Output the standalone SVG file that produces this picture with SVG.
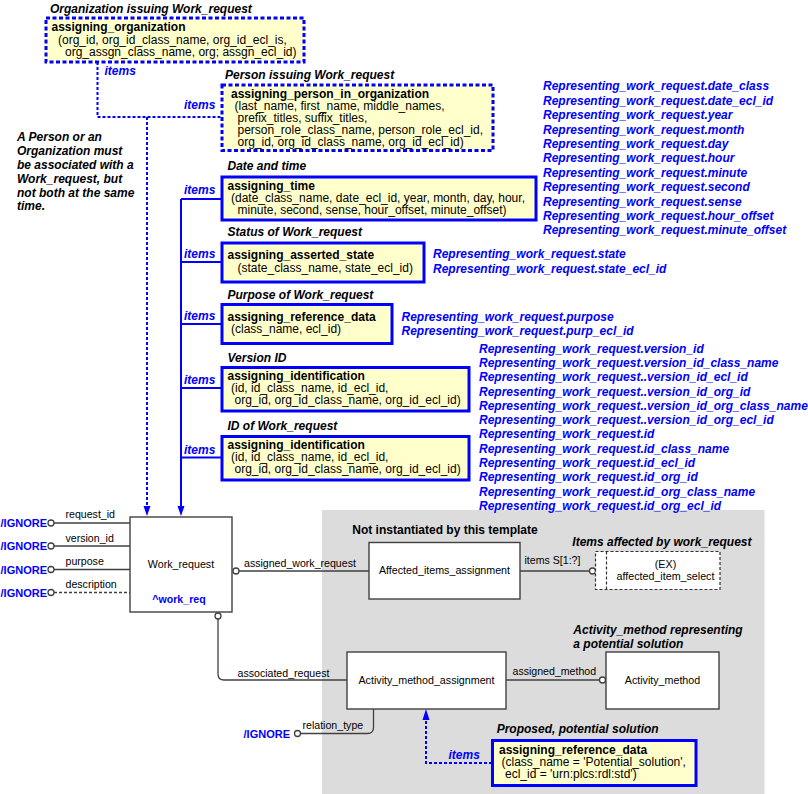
<svg xmlns="http://www.w3.org/2000/svg" width="808" height="794" viewBox="0 0 808 794">
<style>
text{font-family:"Liberation Sans",Arial,Helvetica,sans-serif;}
.ttl{font-size:12px;font-weight:bold;font-style:italic;fill:#000}
.bx{font-size:12px;fill:#000}
.bb{font-weight:bold}
.rep{font-size:12px;font-weight:bold;font-style:italic;fill:#0000ff}
.lbl{font-size:10.6px;fill:#000}
.ent{font-size:10.7px;fill:#000;text-anchor:middle}
.ign{font-size:11px;font-weight:bold;fill:#0000ff;text-anchor:end}
.tb{fill:#ffffcc;stroke:#0000ff;stroke-width:3}
.tbd{fill:#ffffcc;stroke:#0000ff;stroke-width:3;stroke-dasharray:4 2.5}
.eb{fill:#fff;stroke:#404040;stroke-width:1.4}
.ln{fill:none;stroke:#404040;stroke-width:1.3}
.bl{fill:none;stroke:#0000ff;stroke-width:2}
.bld{fill:none;stroke:#0000ff;stroke-width:2;stroke-dasharray:3 2}
.circ{fill:#fff;stroke:#404040;stroke-width:1.3}
</style>

<rect id="notInstantiatedArea" x="322" y="510" width="442.5" height="284" fill="#dcdcdc"/>

<g id="connectors">
  <path class="bld" d="M97.5,62 V117 H222"/>
  <path class="bld" d="M147,117 V506"/>
  <path d="M143.5,506 L150.5,506 L147,516 z" fill="#0000ff"/>
  <path class="bl" d="M181,199 V506"/>
  <path d="M177.5,506 L184.5,506 L181,516 z" fill="#0000ff"/>
  <path class="bl" d="M181,199 H222 M181,262 H222 M181,324 H222 M181,388 H222 M181,457.5 H222"/>
  <path class="ln" d="M54,523 H130 M54,546 H130 M54,569.5 H130"/>
  <path class="ln" d="M54,592.5 H130" stroke-dasharray="3 2"/>
  <circle class="circ" cx="51" cy="523" r="3"/>
  <circle class="circ" cx="51" cy="546" r="3"/>
  <circle class="circ" cx="51" cy="569.5" r="3"/>
  <circle class="circ" cx="51" cy="592.5" r="3"/>
  <path class="ln" d="M239,571 H369"/>
  <circle class="circ" cx="236" cy="571" r="3"/>
  <path class="ln" d="M520,571 H589.5"/>
  <circle class="circ" cx="592.5" cy="571" r="3"/>
  <path class="ln" d="M218,619 V674 Q218,680 224,680 H347"/>
  <circle class="circ" cx="218" cy="616" r="3"/>
  <path class="ln" d="M373.5,709 V727.5 Q373.5,733.5 367.5,733.5 H300.5"/>
  <circle class="circ" cx="297.5" cy="733.5" r="3"/>
  <path class="ln" d="M506,680 H599.5"/>
  <circle class="circ" cx="602.5" cy="680" r="3"/>
  <path class="bld" d="M492,763 H426 V720"/>
  <path d="M422.5,720 L429.5,720 L426,709 z" fill="#0000ff"/>
</g>

<g id="labels">
  <text class="rep" x="104.5" y="75">items</text>
  <text class="rep" x="184" y="109">items</text>
  <text class="rep" x="184" y="193.5">items</text>
  <text class="rep" x="184" y="257.5">items</text>
  <text class="rep" x="184" y="320">items</text>
  <text class="rep" x="184" y="384">items</text>
  <text class="rep" x="184" y="454">items</text>
  <text class="rep" x="448.5" y="759">items</text>
  <text class="ign" x="47" y="527">/IGNORE</text>
  <text class="ign" x="47" y="550">/IGNORE</text>
  <text class="ign" x="47" y="573.5">/IGNORE</text>
  <text class="ign" x="47" y="596.5">/IGNORE</text>
  <text class="ign" x="290" y="738">/IGNORE</text>
  <text class="lbl" x="65.5" y="518">request_id</text>
  <text class="lbl" x="65.5" y="541.5">version_id</text>
  <text class="lbl" x="65.5" y="564.5">purpose</text>
  <text class="lbl" x="65.5" y="588">description</text>
  <text class="lbl" x="244" y="567">assigned_work_request</text>
  <text class="lbl" x="524.5" y="564">items S[1:?]</text>
  <text class="lbl" x="237.5" y="676.5">associated_request</text>
  <text class="lbl" x="302.5" y="729">relation_type</text>
  <text class="lbl" x="512.5" y="675">assigned_method</text>
</g>

<g id="note">
  <text class="ttl" x="17" y="140.5">A Person or an</text>
  <text class="ttl" x="17" y="154.5">Organization must</text>
  <text class="ttl" x="17" y="168.5">be associated with a</text>
  <text class="ttl" x="17" y="182.5">Work_request, but</text>
  <text class="ttl" x="17" y="196.5">not both at the same</text>
  <text class="ttl" x="17" y="210">time.</text>
</g>

<g id="assigning_organization">
  <text class="ttl" x="50" y="13">Organization issuing Work_request</text>
  <rect class="tbd" x="46" y="18" width="258" height="44"/>
  <text class="bx bb" x="51.5" y="31">assigning_organization</text>
  <text class="bx" x="58" y="43.5">(org_id, org_id_class_name, org_id_ecl_is,</text>
  <text class="bx" x="65" y="56">org_assgn_class_name, org; assgn_ecl_id)</text>
</g>

<g id="assigning_person_in_organization">
  <text class="ttl" x="225" y="79">Person issuing Work_request</text>
  <rect class="tbd" x="222" y="85" width="271" height="65.5"/>
  <text class="bx bb" x="231" y="97.5">assigning_person_in_organization</text>
  <text class="bx" x="234.5" y="109.5">(last_name, first_name, middle_names,</text>
  <text class="bx" x="237.5" y="122">prefix_titles, suffix_titles,</text>
  <text class="bx" x="237.5" y="134">person_role_class_name, person_role_ecl_id,</text>
  <text class="bx" x="237.5" y="146">org_id, org_id_class_name, org_id_ecl_id)</text>
</g>

<g id="assigning_time">
  <text class="ttl" x="227.5" y="170">Date and time</text>
  <rect class="tb" x="222" y="177" width="314" height="43"/>
  <text class="bx bb" x="227.5" y="190">assigning_time</text>
  <text class="bx" x="231" y="202">(date_class_name, date_ecl_id, year, month, day, hour,</text>
  <text class="bx" x="237.5" y="214">minute, second, sense, hour_offset, minute_offset)</text>
  <text class="rep" x="543" y="90.3">Representing_work_request.date_class</text>
  <text class="rep" x="543" y="104.7">Representing_work_request.date_ecl_id</text>
  <text class="rep" x="543" y="119.1">Representing_work_request.year</text>
  <text class="rep" x="543" y="133.5">Representing_work_request.month</text>
  <text class="rep" x="543" y="147.9">Representing_work_request.day</text>
  <text class="rep" x="543" y="162.3">Representing_work_request.hour</text>
  <text class="rep" x="543" y="176.7">Representing_work_request.minute</text>
  <text class="rep" x="543" y="191.1">Representing_work_request.second</text>
  <text class="rep" x="543" y="205.5">Representing_work_request.sense</text>
  <text class="rep" x="543" y="219.9">Representing_work_request.hour_offset</text>
  <text class="rep" x="543" y="234.3">Representing_work_request.minute_offset</text>
</g>

<g id="assigning_asserted_state">
  <text class="ttl" x="227.5" y="236">Status of Work_request</text>
  <rect class="tb" x="222" y="243" width="202" height="39"/>
  <text class="bx bb" x="227.5" y="259">assigning_asserted_state</text>
  <text class="bx" x="237.5" y="271.5">(state_class_name, state_ecl_id)</text>
  <text class="rep" x="433" y="258.3">Representing_work_request.state</text>
  <text class="rep" x="433" y="272.6">Representing_work_request.state_ecl_id</text>
</g>

<g id="assigning_reference_data_purpose">
  <text class="ttl" x="227.5" y="299">Purpose of Work_request</text>
  <rect class="tb" x="222" y="304.5" width="170" height="39"/>
  <text class="bx bb" x="227.5" y="320.5">assigning_reference_data</text>
  <text class="bx" x="231" y="333">(class_name, ecl_id)</text>
  <text class="rep" x="401.5" y="321">Representing_work_request.purpose</text>
  <text class="rep" x="401.5" y="335">Representing_work_request.purp_ecl_id</text>
</g>

<g id="assigning_identification_version">
  <text class="ttl" x="227.5" y="361.5">Version ID</text>
  <rect class="tb" x="222" y="367.5" width="247" height="43.5"/>
  <text class="bx bb" x="227.5" y="379.5">assigning_identification</text>
  <text class="bx" x="231" y="392">(id, id_class_name, id_ecl_id,</text>
  <text class="bx" x="234.5" y="404">org_id, org_id_class_name, org_id_ecl_id)</text>
</g>

<g id="assigning_identification_id">
  <text class="ttl" x="227.5" y="430">ID of Work_request</text>
  <rect class="tb" x="222" y="436.5" width="247" height="43.5"/>
  <text class="bx bb" x="227.5" y="448.5">assigning_identification</text>
  <text class="bx" x="231" y="461">(id, id_class_name, id_ecl_id,</text>
  <text class="bx" x="234.5" y="473">org_id, org_id_class_name, org_id_ecl_id)</text>
</g>

<g id="identification_attributes">
  <text class="rep" x="479" y="352.6">Representing_work_request.version_id</text>
  <text class="rep" x="479" y="366.9">Representing_work_request.version_id_class_name</text>
  <text class="rep" x="479" y="381.2">Representing_work_request..version_id_ecl_id</text>
  <text class="rep" x="479" y="395.5">Representing_work_request..version_id_org_id</text>
  <text class="rep" x="479" y="409.8">Representing_work_request..version_id_org_class_name</text>
  <text class="rep" x="479" y="424.1">Representing_work_request..version_id_org_ecl_id</text>
  <text class="rep" x="479" y="438.4">Representing_work_request.id</text>
  <text class="rep" x="479" y="452.7">Representing_work_request.id_class_name</text>
  <text class="rep" x="479" y="467">Representing_work_request.id_ecl_id</text>
  <text class="rep" x="479" y="481.3">Representing_work_request.id_org_id</text>
  <text class="rep" x="479" y="495.6">Representing_work_request.id_org_class_name</text>
  <text class="rep" x="479" y="509.9">Representing_work_request.id_org_ecl_id</text>
</g>

<g id="Work_request">
  <rect class="eb" x="130" y="517" width="102" height="95"/>
  <text class="ent" x="181" y="567.5">Work_request</text>
  <text x="179" y="603" style="font-size:10.6px;font-weight:bold;fill:#0000ff;text-anchor:middle">^work_req</text>
</g>

<g id="notInstantiatedTitle">
  <text x="352.3" y="534" style="font-size:12px;font-weight:bold;fill:#000">Not instantiated by this template</text>
</g>

<g id="Affected_items_assignment">
  <rect class="eb" x="369" y="542.5" width="151" height="56.5"/>
  <text class="ent" x="444.5" y="574">Affected_items_assignment</text>
</g>

<g id="affected_item_select">
  <text class="ttl" x="572.3" y="546">Items affected by work_request</text>
  <rect x="595.5" y="551.5" width="124.5" height="38" fill="#fff" stroke="#303030" stroke-width="1.2" stroke-dasharray="3 2"/>
  <path d="M606.5,551.5 V589.5" stroke="#303030" stroke-width="1.2" stroke-dasharray="3 2" fill="none"/>
  <text class="ent" x="665.5" y="568">(EX)</text>
  <text class="ent" x="665.5" y="580">affected_item_select</text>
</g>

<g id="Activity_method_assignment">
  <rect class="eb" x="347" y="652" width="159" height="57"/>
  <text class="ent" x="426.5" y="684">Activity_method_assignment</text>
</g>

<g id="Activity_method">
  <text class="ttl" x="573.3" y="633.5">Activity_method representing</text>
  <text class="ttl" x="573.3" y="647.5">a potential solution</text>
  <rect class="eb" x="606" y="652" width="113" height="57"/>
  <text class="ent" x="662.5" y="684">Activity_method</text>
</g>

<g id="assigning_reference_data_solution">
  <text class="ttl" x="496.7" y="733">Proposed, potential solution</text>
  <rect class="tb" x="492.5" y="740.5" width="203.5" height="45"/>
  <text class="bx bb" x="499" y="754">assigning_reference_data</text>
  <text class="bx" x="501.5" y="766">(class_name = 'Potential_solution',</text>
  <text class="bx" x="505" y="778">ecl_id = 'urn:plcs:rdl:std')</text>
</g>
</svg>
